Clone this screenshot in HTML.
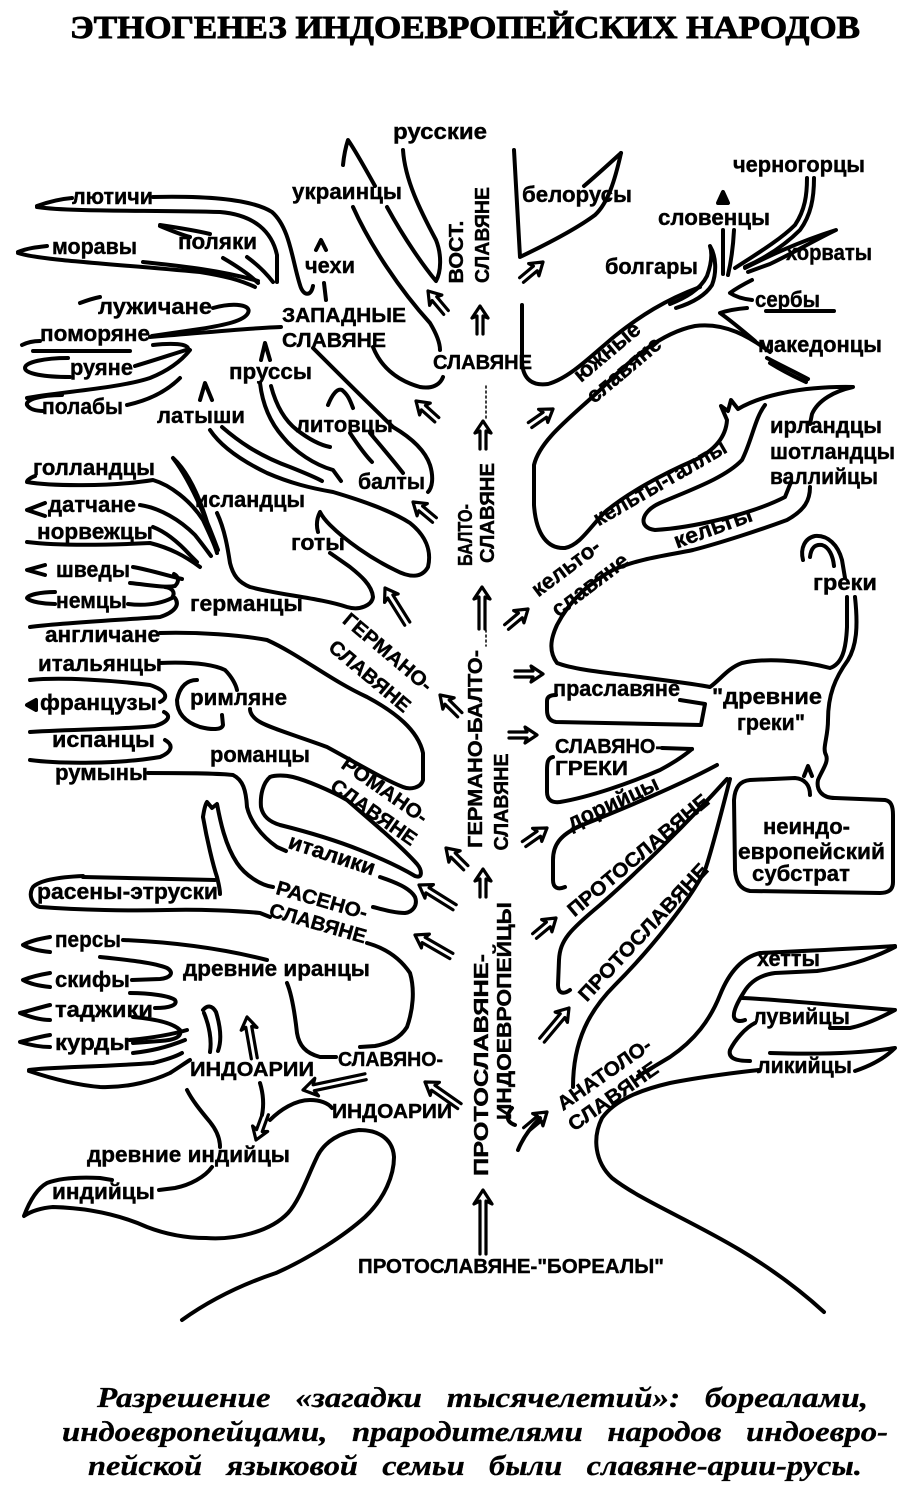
<!DOCTYPE html>
<html lang="ru">
<head>
<meta charset="utf-8">
<style>
  html,body{margin:0;padding:0;background:#fff;}
  svg{display:block;}
  .s path{fill:none;stroke:#000;stroke-width:4;stroke-linecap:round;stroke-linejoin:round;}
  .s use{fill:none;stroke:#000;stroke-width:3.2;stroke-linecap:round;stroke-linejoin:round;}
  text{font-family:"Liberation Sans",sans-serif;font-weight:bold;fill:#000;stroke:#000;stroke-width:0.4;}
  .l{font-size:22px;}
  .c{font-size:20px;}
  .t{font-family:"Liberation Serif",serif;font-weight:bold;font-size:32px;stroke-width:0.9;}
  .cap{font-family:"Liberation Serif",serif;font-style:italic;font-weight:bold;font-size:28px;word-spacing:14px;stroke-width:0.3;}
</style>
</head>
<body>
<svg width="919" height="1500" viewBox="0 0 919 1500" xmlns="http://www.w3.org/2000/svg">
<rect width="919" height="1500" fill="#fff"/>
<defs>
  <path id="a" d="M0,0 L-8,12 L-3,10 L-3,28 M0,0 L8,12 L3,10 L3,28"/>
  <path id="b" d="M0,0 L-8,12 L-3,10 L-3,42 M0,0 L8,12 L3,10 L3,42"/>
  <path id="c" d="M0,0 L-9,14 L-3,11 L-3,64 M0,0 L9,14 L3,11 L3,64"/>
</defs>

<!-- TITLE -->
<text class="t" x="70" y="38" textLength="790" lengthAdjust="spacingAndGlyphs">ЭТНОГЕНЕЗ  ИНДОЕВРОПЕЙСКИХ  НАРОДОВ</text>

<g class="s">
<!-- WEST SLAVS -->
<path d="M153,197 C200,196 250,198 272,212 C290,228 292,260 300,285 C303,296 311,297 313,286"/>
<path d="M37,206 C48,202 60,199 72,198"/>
<path d="M37,207 C70,212 150,210 220,212 C255,215 272,232 277,255 L277,282"/>
<path d="M316,250 L321,240 L326,250"/>
<path d="M324,283 L326,300"/>
<path d="M160,225 C180,228 198,231 210,234"/>
<path d="M160,226 C172,231 182,235 190,237"/>
<path d="M223,258 C235,265 248,273 258,283"/>
<path d="M247,257 C258,265 266,273 273,282"/>
<path d="M18,252 C28,248 38,247 47,246"/>
<path d="M18,253 C40,260 100,263 200,272 C225,276 240,280 255,287"/>
<path d="M143,262 C180,266 220,270 258,281"/>
<path d="M80,303 C88,300 95,298 100,297"/>
<path d="M213,308 C235,302 252,305 248,313 C244,321 225,325 200,329 C180,332 165,334 152,336"/>
<path d="M150,337 C200,333 250,328 281,327"/>
<path d="M22,345 C28,342 34,341 40,341"/>
<path d="M33,351 L130,351"/>
<path d="M68,358 C45,358 25,362 25,368 C25,374 45,377 70,377"/>
<path d="M135,366 C152,361 170,355 186,350"/>
<path d="M153,345 C170,343 190,343 188,350"/>
<path d="M62,395 C40,395 25,400 27,405 C30,410 38,411 44,411"/>
<path d="M27,398 C60,392 120,388 150,378 C170,370 182,360 190,350"/>
<path d="M127,405 C150,400 168,390 180,378"/>
<path d="M313,348 C340,375 370,405 393,427 C410,437 425,450 430,465 C434,478 432,488 428,492"/>
<path d="M373,347 C380,365 395,380 420,387 C432,389 440,385 443,377"/>

<!-- EAST SLAVS -->
<path d="M343,165 C344,155 346,146 348,140 C355,150 365,168 375,186"/>
<path d="M353,207 C370,245 400,290 430,323 C436,333 440,342 440,350"/>
<path d="M403,150 C405,180 420,210 436,240 C442,255 441,272 436,281 C425,268 405,240 387,207"/>
<path d="M514,150 L520,257 C545,245 575,230 595,215 C608,203 615,180 621,153"/>
<path d="M584,186 C597,175 610,163 621,153"/>

<!-- SOUTH SLAVS -->
<path d="M522,305 L522,362 C523,380 533,386 548,384 C570,378 592,355 615,336 C640,316 665,300 700,287"/>
<path d="M670,304 C685,298 700,290 707,276 C712,262 712,252 710,246 C716,256 717,272 712,285 C705,296 692,303 676,308"/>
<path d="M718,203 L723,192 L728,203 Z" style="fill:#000"/>
<path d="M723,230 L723,274"/>
<path d="M734,230 C733,250 731,262 728,275"/>
<path d="M807,178 C807,195 805,210 795,225 C780,240 755,255 735,268"/>
<path d="M814,178 C814,198 811,215 800,230 C785,245 765,258 745,267"/>
<path d="M745,268 C765,258 795,243 836,230 C815,240 795,252 770,264 L748,272"/>
<path d="M752,280 C742,285 734,290 730,293 C736,297 743,299 752,300"/>
<path d="M766,311 L834,311"/>
<path d="M747,308 C735,309 726,311 720,313 C730,320 742,330 755,341"/>
<path d="M767,358 C780,365 795,372 808,379"/>
<path d="M770,363 C783,371 795,377 806,382"/>

<!-- CELTS -->
<path d="M770,352 C750,337 725,322 695,326 C660,333 630,360 600,390 C570,418 540,440 534,465 L534,505 C536,535 548,549 565,548 C580,545 590,527 605,512 C625,495 660,475 695,460 C715,450 726,437 727,420 L721,406 L728,411 L731,400 L738,409 C760,396 800,386 853,387 C835,391 818,400 812,414 L810,424"/>
<path d="M765,405 C755,418 752,440 742,460 C725,478 690,490 660,503 C640,512 638,528 655,530 C690,528 750,515 785,497 L791,482"/>
<path d="M810,487 C810,500 805,510 787,520 C760,530 720,543 693,550 C670,555 640,558 613,570 C590,582 570,600 557,625 C550,640 549,652 557,663 C575,670 610,673 640,677 C670,681 695,684 710,687 C720,680 728,668 742,663 C765,658 800,660 830,668 C842,664 846,650 847,627 L847,597"/>

<!-- GREEKS -->
<path d="M803,560 C800,548 805,538 815,536 C828,535 838,545 842,560 L845,578"/>
<path d="M810,557 C811,548 815,544 822,545 C829,547 833,556 834,566"/>
<path d="M855,597 C858,625 857,645 848,660 C835,678 828,695 828,720 C828,738 822,748 826,755 C829,762 822,770 818,780 C816,790 822,798 835,798 L885,800 C891,801 893,806 893,815 L893,882 C893,890 888,893 880,893 L750,891 C740,889 736,882 735,870 L734,800 C735,787 740,781 750,780 L795,778 C805,779 810,785 810,795"/>
<path d="M804,776 L808,766 L812,776"/>
<path d="M680,700 L705,704 L701,725 L556,722 C549,721 547,716 547,710 L547,701 C547,697 550,695 556,695"/>
<path d="M662,748 L692,749"/>
<path d="M553,757 C548,758 547,762 547,770 L547,792 C547,800 552,803 560,802 C590,797 630,783 660,770 C675,762 685,755 692,749"/>
<path d="M717,765 C680,785 620,810 580,826 C560,835 553,845 553,860 L553,880 C553,888 558,890 565,887"/>
<path d="M727,779 C690,820 640,870 600,905 C570,930 560,940 559,960 L558,985 C558,993 563,995 570,990"/>
<path d="M730,779 C722,810 712,850 705,870 C690,900 650,950 615,985 C590,1010 573,1040 573,1087"/>

<!-- ANATOLIANS -->
<path d="M895,946 C850,949 800,951 760,953 C740,958 728,975 720,995 C710,1020 695,1040 670,1057 C655,1066 645,1072 638,1076"/>
<path d="M895,947 C870,960 840,968 817,971 L775,973 C760,975 750,982 744,992 C737,1003 733,1012 734,1017 C735,1021 740,1022 745,1020"/>
<path d="M742,998 C770,999 820,1004 895,1010 C880,1018 865,1025 850,1028 L830,1028"/>
<path d="M755,1023 C745,1028 735,1040 730,1050 C728,1058 735,1061 750,1061"/>
<path d="M770,1053 C800,1054 850,1055 895,1048 C885,1058 870,1066 855,1071"/>
<path d="M824,1312 C800,1290 770,1268 740,1250 C690,1220 640,1200 612,1178 C595,1162 592,1138 602,1118 C615,1100 640,1090 670,1083 C700,1077 740,1072 759,1070"/>
<path d="M518,1150 C522,1140 530,1128 540,1118"/>
<path d="M512,1108 C506,1115 506,1122 515,1125"/>

<!-- GERMANS -->
<path d="M35,476 C30,478 27,480 27,482 C50,486 110,487 153,480 C170,485 190,500 203,520 C210,535 215,545 217,553"/>
<path d="M173,458 C190,480 205,515 218,550 M173,458 C186,470 198,492 208,525"/>
<path d="M45,503 L27,510 L45,516"/>
<path d="M140,505 C160,508 180,520 195,535 C203,545 208,552 211,556"/>
<path d="M27,542 C60,546 110,545 150,543 C170,548 185,556 200,567"/>
<path d="M153,527 C166,532 179,543 190,555 L197,562"/>
<path d="M45,565 L27,570 L45,575"/>
<path d="M133,567 C150,570 165,575 182,579"/>
<path d="M130,583 C150,585 165,588 175,586 C180,581 178,576 174,574"/>
<path d="M55,592 C40,592 28,595 27,598 C30,602 45,604 55,604"/>
<path d="M128,604 C145,606 160,604 172,598 C176,592 172,588 165,587"/>
<path d="M30,627 C60,623 120,620 160,617 C175,612 180,605 175,598"/>
<path d="M160,633 C200,632 240,635 267,640 C300,655 330,680 367,697 C395,712 418,730 423,753 L423,780 C421,788 410,790 403,787 C385,780 360,765 327,747 C300,737 270,728 260,722 C253,718 250,713 250,709"/>
<path d="M217,513 C225,530 228,550 230,563 C233,575 238,582 250,587 C280,595 320,598 347,607 C360,611 372,605 373,597 C372,585 360,575 350,567 C340,560 333,555 330,553"/>
<path d="M210,430 C220,445 240,460 267,473 C290,483 310,488 333,492 C360,500 390,510 410,523 C425,535 432,550 428,567 C422,578 410,578 395,570 C370,558 345,540 330,525 C324,519 321,514 320,512 C317,518 316,525 318,532"/>

<!-- BALTS -->
<path d="M200,400 L205,383 L212,400"/>
<path d="M222,427 C237,440 257,455 290,467 C305,473 315,477 322,481"/>
<path d="M261,360 L265,343 L270,360"/>
<path d="M260,383 C262,400 268,420 283,437 C295,452 315,465 333,470 L341,481"/>
<path d="M271,386 C276,405 284,420 297,430 C310,440 320,445 330,447"/>
<path d="M328,405 C332,395 337,388 342,390 C348,395 350,400 353,408"/>
<path d="M350,433 C358,445 365,455 372,462"/>
<path d="M370,433 C380,445 393,460 403,473"/>

<!-- ROMANCE -->
<path d="M160,663 C185,662 210,663 225,670 C232,677 236,685 237,690"/>
<path d="M197,680 C188,680 180,685 177,700 C177,713 185,722 200,727 C212,730 222,730 223,725 L222,715"/>
<path d="M30,680 C60,677 110,680 150,685 C165,690 170,697 160,702"/>
<path d="M27,705 L36,700 L36,710 Z" style="fill:#000"/>
<path d="M30,732 C80,729 130,729 155,726 C168,722 172,716 164,712"/>
<path d="M30,760 C60,764 120,764 160,757 C172,752 174,745 165,740"/>
<path d="M148,773 C180,773 215,773 233,775 C243,780 246,790 247,807 C250,820 260,835 277,847 L286,851"/>
<path d="M270,777 C263,783 260,795 261,807 C263,817 270,822 280,825 C300,830 330,838 360,850 C385,860 405,870 415,876 C423,879 422,870 417,864 C400,845 370,820 347,800 C330,790 305,780 293,777 C285,775 275,775 270,777"/>
<path d="M380,877 C395,882 410,888 415,897 C418,905 413,912 405,913 C395,913 385,910 373,907"/>

<!-- RASEN -->
<path d="M203,817 C204,810 205,805 207,802 L212,808 L217,804 C220,820 225,845 237,863 C245,875 260,885 273,887"/>
<path d="M203,817 C207,840 213,865 217,877 C219,885 220,890 220,894"/>
<path d="M83,876 C60,877 40,880 33,887 C28,895 32,905 40,907 C80,910 130,911 167,910 C200,909 240,911 260,913 L270,917"/>
<path d="M83,877 L215,880"/>

<!-- IRANIANS -->
<path d="M50,937 C38,939 28,942 23,945 C30,949 40,951 50,952"/>
<path d="M123,940 C170,942 220,948 267,960"/>
<path d="M100,957 C130,960 155,963 167,968 C175,973 170,978 160,979 L132,980"/>
<path d="M50,973 C38,975 28,978 23,980 C30,984 40,986 50,987"/>
<path d="M130,993 C150,993 170,996 175,1000 C178,1005 170,1008 155,1008"/>
<path d="M50,1005 C38,1008 28,1011 20,1013 C30,1017 40,1020 50,1020"/>
<path d="M133,1017 C155,1019 173,1023 180,1030 C182,1037 175,1040 160,1041 L133,1043"/>
<path d="M50,1035 C38,1037 28,1040 20,1042 C30,1045 40,1047 50,1047"/>
<path d="M130,1040 C150,1038 170,1035 187,1030"/>
<path d="M133,1053 C150,1051 165,1048 185,1040"/>
<path d="M29,1070 C50,1067 100,1067 153,1063 C165,1060 175,1057 182,1053"/>
<path d="M29,1071 C50,1078 75,1085 100,1087 C130,1088 155,1080 170,1073 C178,1068 185,1063 190,1060"/>
<path d="M287,983 C292,995 295,1015 297,1033 C299,1045 305,1053 320,1057 L336,1057"/>
<path d="M367,943 C385,948 400,958 410,973 C415,990 413,1010 407,1027 C400,1038 390,1043 375,1046 L360,1047"/>

<!-- INDOARII / INDIANS -->
<path d="M203,1010 C207,1005 212,1005 216,1012 C220,1025 222,1040 218,1051"/>
<path d="M204,1013 C209,1025 212,1040 210,1052"/>
<path d="M187,1090 C192,1100 200,1110 210,1122 C218,1132 220,1140 220,1147"/>
<path d="M260,1083 C263,1093 264,1105 262,1115"/>
<path d="M270,1120 C280,1110 295,1100 310,1100 C320,1100 328,1103 332,1108"/>
<path d="M212,1167 C205,1177 190,1185 175,1188 L159,1190"/>
<path d="M182,1320 C210,1300 240,1285 276,1273 C310,1258 345,1235 365,1217 C385,1198 394,1175 394,1157 C393,1140 380,1130 359,1130 C340,1132 325,1142 318,1155 C308,1175 300,1200 288,1213 C270,1232 235,1240 206,1238 C180,1238 160,1232 147,1227 C120,1215 90,1208 53,1207 C40,1208 30,1212 24,1216 C30,1200 38,1188 47,1183 C60,1178 80,1177 100,1178 L112,1180"/>

<!-- dotted centre lines -->
<path d="M486,386 L486,418" style="stroke-width:1.5;stroke-dasharray:2 3"/>
<path d="M486,630 L486,646" style="stroke-width:1.5;stroke-dasharray:2 3"/>

<!-- ARROWS -->
<use href="#a" transform="translate(428,291) rotate(-40)"/>
<use href="#a" transform="translate(480,306)"/>
<use href="#a" transform="translate(543,262) rotate(50)"/>
<use href="#a" transform="translate(416,401) rotate(-48)"/>
<use href="#a" transform="translate(553,409) rotate(55)"/>
<use href="#a" transform="translate(483,421)"/>
<use href="#a" transform="translate(413,502) rotate(-50)"/>
<use href="#b" transform="translate(385,588) rotate(-32)"/>
<use href="#b" transform="translate(482,587)"/>
<use href="#a" transform="translate(528,609) rotate(50)"/>
<use href="#a" transform="translate(543,674) rotate(90)"/>
<use href="#a" transform="translate(440,695) rotate(-45)"/>
<use href="#a" transform="translate(537,735) rotate(90)"/>
<use href="#a" transform="translate(547,828) rotate(55)"/>
<use href="#a" transform="translate(446,848) rotate(-45)"/>
<use href="#a" transform="translate(483,869)"/>
<use href="#b" transform="translate(419,885) rotate(-58)"/>
<use href="#a" transform="translate(556,918) rotate(50)"/>
<use href="#b" transform="translate(415,935) rotate(-60)"/>
<use href="#b" transform="translate(569,1008) rotate(40)"/>
<use href="#c" transform="translate(303,1090) rotate(-102)"/>
<use href="#b" transform="translate(425,1082) rotate(-55)"/>
<use href="#b" transform="translate(247,1017) rotate(-10)"/>
<use href="#a" transform="translate(256,1140) rotate(200)"/>
<use href="#a" transform="translate(547,1112) rotate(50)"/>
<use href="#c" transform="translate(483,1190)"/>
</g>

<!-- LABELS -->
<g>
<text class="l" x="393" y="139" textLength="94" lengthAdjust="spacingAndGlyphs">русские</text>
<text class="l" x="292" y="199" textLength="110" lengthAdjust="spacingAndGlyphs">украинцы</text>
<text class="l" x="522" y="202" textLength="110" lengthAdjust="spacingAndGlyphs">белорусы</text>
<text class="l" x="733" y="172" textLength="132" lengthAdjust="spacingAndGlyphs">черногорцы</text>
<text class="l" x="658" y="225" textLength="112" lengthAdjust="spacingAndGlyphs">словенцы</text>
<text class="l" x="786" y="260" textLength="86" lengthAdjust="spacingAndGlyphs">хорваты</text>
<text class="l" x="605" y="274" textLength="93" lengthAdjust="spacingAndGlyphs">болгары</text>
<text class="l" x="755" y="307" textLength="65" lengthAdjust="spacingAndGlyphs">сербы</text>
<text class="l" x="758" y="352" textLength="124" lengthAdjust="spacingAndGlyphs">македонцы</text>
<text class="l" x="72" y="204" textLength="81" lengthAdjust="spacingAndGlyphs">лютичи</text>
<text class="l" x="52" y="254" textLength="85" lengthAdjust="spacingAndGlyphs">моравы</text>
<text class="l" x="178" y="249" textLength="79" lengthAdjust="spacingAndGlyphs">поляки</text>
<text class="l" x="305" y="273" textLength="50" lengthAdjust="spacingAndGlyphs">чехи</text>
<text class="l" x="98" y="314" textLength="114" lengthAdjust="spacingAndGlyphs">лужичане</text>
<text class="l" x="40" y="341" textLength="110" lengthAdjust="spacingAndGlyphs">поморяне</text>
<text class="l" x="70" y="375" textLength="63" lengthAdjust="spacingAndGlyphs">руяне</text>
<text class="l" x="42" y="414" textLength="81" lengthAdjust="spacingAndGlyphs">полабы</text>
<text class="c" x="282" y="322" textLength="124" lengthAdjust="spacingAndGlyphs">ЗАПАДНЫЕ</text>
<text class="c" x="282" y="347" textLength="104" lengthAdjust="spacingAndGlyphs">СЛАВЯНЕ</text>
<text class="c" x="433" y="369" textLength="99" lengthAdjust="spacingAndGlyphs">СЛАВЯНЕ</text>
<text class="l" x="229" y="379" textLength="83" lengthAdjust="spacingAndGlyphs">пруссы</text>
<text class="l" x="157" y="423" textLength="88" lengthAdjust="spacingAndGlyphs">латыши</text>
<text class="l" x="296" y="432" textLength="97" lengthAdjust="spacingAndGlyphs">литовцы</text>
<text class="l" x="770" y="433" textLength="112" lengthAdjust="spacingAndGlyphs">ирландцы</text>
<text class="l" x="770" y="459" textLength="125" lengthAdjust="spacingAndGlyphs">шотландцы</text>
<text class="l" x="770" y="484" textLength="108" lengthAdjust="spacingAndGlyphs">валлийцы</text>
<text class="l" x="358" y="489" textLength="67" lengthAdjust="spacingAndGlyphs">балты</text>
<text class="l" x="195" y="507" textLength="110" lengthAdjust="spacingAndGlyphs">исландцы</text>
<text class="l" x="33" y="475" textLength="122" lengthAdjust="spacingAndGlyphs">голландцы</text>
<text class="l" x="48" y="512" textLength="88" lengthAdjust="spacingAndGlyphs">датчане</text>
<text class="l" x="37" y="539" textLength="116" lengthAdjust="spacingAndGlyphs">норвежцы</text>
<text class="l" x="291" y="550" textLength="54" lengthAdjust="spacingAndGlyphs">готы</text>
<text class="l" x="56" y="577" textLength="74" lengthAdjust="spacingAndGlyphs">шведы</text>
<text class="l" x="56" y="608" textLength="71" lengthAdjust="spacingAndGlyphs">немцы</text>
<text class="l" x="190" y="611" textLength="113" lengthAdjust="spacingAndGlyphs">германцы</text>
<text class="l" x="813" y="590" textLength="64" lengthAdjust="spacingAndGlyphs">греки</text>
<text class="l" x="45" y="642" textLength="115" lengthAdjust="spacingAndGlyphs">англичане</text>
<text class="l" x="38" y="671" textLength="124" lengthAdjust="spacingAndGlyphs">итальянцы</text>
<text class="l" x="553" y="696" textLength="127" lengthAdjust="spacingAndGlyphs">праславяне</text>
<text class="l" x="40" y="710" textLength="117" lengthAdjust="spacingAndGlyphs">французы</text>
<text class="l" x="190" y="705" textLength="97" lengthAdjust="spacingAndGlyphs">римляне</text>
<text class="l" x="712" y="704" textLength="110" lengthAdjust="spacingAndGlyphs">"древние</text>
<text class="l" x="737" y="730" textLength="68" lengthAdjust="spacingAndGlyphs">греки"</text>
<text class="l" x="52" y="747" textLength="103" lengthAdjust="spacingAndGlyphs">испанцы</text>
<text class="c" x="555" y="753" textLength="107" lengthAdjust="spacingAndGlyphs">СЛАВЯНО-</text>
<text class="c" x="555" y="775" textLength="73" lengthAdjust="spacingAndGlyphs">ГРЕКИ</text>
<text class="l" x="55" y="780" textLength="93" lengthAdjust="spacingAndGlyphs">румыны</text>
<text class="l" x="210" y="762" textLength="100" lengthAdjust="spacingAndGlyphs">романцы</text>
<text class="l" x="763" y="834" textLength="87" lengthAdjust="spacingAndGlyphs">неиндо-</text>
<text class="l" x="738" y="859" textLength="147" lengthAdjust="spacingAndGlyphs">европейский</text>
<text class="l" x="752" y="881" textLength="98" lengthAdjust="spacingAndGlyphs">субстрат</text>
<text class="l" x="37" y="899" textLength="181" lengthAdjust="spacingAndGlyphs">расены-этруски</text>
<text class="l" x="55" y="947" textLength="66" lengthAdjust="spacingAndGlyphs">персы</text>
<text class="l" x="55" y="987" textLength="75" lengthAdjust="spacingAndGlyphs">скифы</text>
<text class="l" x="183" y="976" textLength="187" lengthAdjust="spacingAndGlyphs">древние иранцы</text>
<text class="l" x="757" y="966" textLength="63" lengthAdjust="spacingAndGlyphs">хетты</text>
<text class="l" x="55" y="1017" textLength="98" lengthAdjust="spacingAndGlyphs">таджики</text>
<text class="l" x="753" y="1024" textLength="97" lengthAdjust="spacingAndGlyphs">лувийцы</text>
<text class="l" x="55" y="1050" textLength="75" lengthAdjust="spacingAndGlyphs">курды</text>
<text class="c" x="338" y="1066" textLength="105" lengthAdjust="spacingAndGlyphs">СЛАВЯНО-</text>
<text class="c" x="190" y="1076" textLength="124" lengthAdjust="spacingAndGlyphs">ИНДОАРИИ</text>
<text class="l" x="757" y="1073" textLength="95" lengthAdjust="spacingAndGlyphs">ликийцы</text>
<text class="c" x="332" y="1118" textLength="120" lengthAdjust="spacingAndGlyphs">ИНДОАРИИ</text>
<text class="l" x="87" y="1162" textLength="203" lengthAdjust="spacingAndGlyphs">древние индийцы</text>
<text class="l" x="52" y="1199" textLength="103" lengthAdjust="spacingAndGlyphs">индийцы</text>
<text class="c" x="358" y="1273" textLength="306" lengthAdjust="spacingAndGlyphs">ПРОТОСЛАВЯНЕ-"БОРЕАЛЫ"</text>

<!-- rotated labels -->
<text class="c" text-anchor="middle" y="7" transform="translate(456,252) rotate(-90)" textLength="63" lengthAdjust="spacingAndGlyphs">ВОСТ.</text>
<text class="c" text-anchor="middle" y="7" transform="translate(482,235) rotate(-90)" textLength="96" lengthAdjust="spacingAndGlyphs">СЛАВЯНЕ</text>
<text class="l" text-anchor="middle" y="7" transform="translate(607,352) rotate(-40)" textLength="80" lengthAdjust="spacingAndGlyphs">южные</text>
<text class="l" text-anchor="middle" y="7" transform="translate(624,370) rotate(-40)" textLength="90" lengthAdjust="spacingAndGlyphs">славяне</text>
<text class="l" text-anchor="middle" y="7" transform="translate(660,483) rotate(-30)" textLength="150" lengthAdjust="spacingAndGlyphs">кельты-галлы</text>
<text class="l" text-anchor="middle" y="7" transform="translate(713,528) rotate(-20)" textLength="82" lengthAdjust="spacingAndGlyphs">кельты</text>
<text class="l" text-anchor="middle" y="7" transform="translate(566,568) rotate(-37)" textLength="80" lengthAdjust="spacingAndGlyphs">кельто-</text>
<text class="l" text-anchor="middle" y="7" transform="translate(590,585) rotate(-37)" textLength="90" lengthAdjust="spacingAndGlyphs">славяне</text>
<text class="c" text-anchor="middle" y="7" transform="translate(465,535) rotate(-90)" textLength="62" lengthAdjust="spacingAndGlyphs">БАЛТО-</text>
<text class="c" text-anchor="middle" y="7" transform="translate(487,513) rotate(-90)" textLength="100" lengthAdjust="spacingAndGlyphs">СЛАВЯНЕ</text>
<text class="c" text-anchor="middle" y="7" transform="translate(388,652) rotate(40)" textLength="110" lengthAdjust="spacingAndGlyphs">ГЕРМАНО-</text>
<text class="c" text-anchor="middle" y="7" transform="translate(370,676) rotate(40)" textLength="100" lengthAdjust="spacingAndGlyphs">СЛАВЯНЕ</text>
<text class="c" text-anchor="middle" y="7" transform="translate(475,749) rotate(-90)" textLength="198" lengthAdjust="spacingAndGlyphs">ГЕРМАНО-БАЛТО-</text>
<text class="c" text-anchor="middle" y="7" transform="translate(501,802) rotate(-90)" textLength="97" lengthAdjust="spacingAndGlyphs">СЛАВЯНЕ</text>
<text class="c" text-anchor="middle" y="7" transform="translate(385,790) rotate(35)" textLength="100" lengthAdjust="spacingAndGlyphs">РОМАНО-</text>
<text class="c" text-anchor="middle" y="7" transform="translate(374,812) rotate(35)" textLength="100" lengthAdjust="spacingAndGlyphs">СЛАВЯНЕ</text>
<text class="l" text-anchor="middle" y="7" transform="translate(332,855) rotate(18)" textLength="90" lengthAdjust="spacingAndGlyphs">италики</text>
<text class="l" text-anchor="middle" y="7" transform="translate(613,803) rotate(-25)" textLength="98" lengthAdjust="spacingAndGlyphs">дорийцы</text>
<text class="c" text-anchor="middle" y="7" transform="translate(638,855) rotate(-40)" textLength="178" lengthAdjust="spacingAndGlyphs">ПРОТОСЛАВЯНЕ</text>
<text class="c" text-anchor="middle" y="7" transform="translate(643,932) rotate(-47)" textLength="180" lengthAdjust="spacingAndGlyphs">ПРОТОСЛАВЯНЕ</text>
<text class="c" text-anchor="middle" y="7" transform="translate(322,900) rotate(16)" textLength="94" lengthAdjust="spacingAndGlyphs">РАСЕНО-</text>
<text class="c" text-anchor="middle" y="7" transform="translate(318,923) rotate(16)" textLength="100" lengthAdjust="spacingAndGlyphs">СЛАВЯНЕ</text>
<text class="c" text-anchor="middle" y="7" transform="translate(481,1065) rotate(-90)" textLength="222" lengthAdjust="spacingAndGlyphs">ПРОТОСЛАВЯНЕ-</text>
<text class="c" text-anchor="middle" y="7" transform="translate(504,1011) rotate(-90)" textLength="218" lengthAdjust="spacingAndGlyphs">ИНДОЕВРОПЕЙЦЫ</text>
<text class="c" text-anchor="middle" y="7" transform="translate(604,1074) rotate(-35)" textLength="110" lengthAdjust="spacingAndGlyphs">АНАТОЛО-</text>
<text class="c" text-anchor="middle" y="7" transform="translate(613,1096) rotate(-35)" textLength="105" lengthAdjust="spacingAndGlyphs">СЛАВЯНЕ</text>
</g>

<!-- CAPTION -->
<text class="cap" x="97" y="1407" textLength="771" lengthAdjust="spacingAndGlyphs">Разрешение «загадки тысячелетий»: бореалами,</text>
<text class="cap" x="62" y="1441" textLength="826" lengthAdjust="spacingAndGlyphs">индоевропейцами, прародителями народов индоевро-</text>
<text class="cap" x="88" y="1475" textLength="774" lengthAdjust="spacingAndGlyphs">пейской языковой семьи были славяне-арии-русы.</text>
</svg>
</body>
</html>
